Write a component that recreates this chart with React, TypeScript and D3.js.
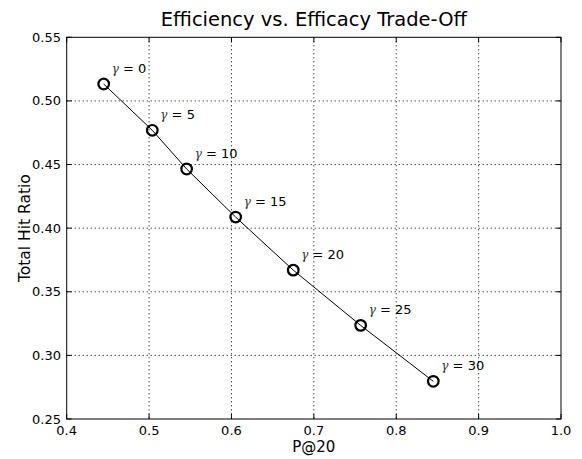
import React from "react";
import * as d3 from "d3";

const gammas = [0, 5, 10, 15, 20, 25, 30];
const precision = [0.4449, 0.5039, 0.5456, 0.6051, 0.675, 0.7568, 0.845];
const hitRatio = [0.5133, 0.4769, 0.4465, 0.4087, 0.367, 0.3236, 0.2796];
const xTicks = [0.4, 0.5, 0.6, 0.7, 0.8, 0.9, 1.0];
const yTicks = [0.25, 0.3, 0.35, 0.4, 0.45, 0.5, 0.55];

const W = 582, H = 459;
const L = 66.7, R = 561, T = 37.3, B = 419;

export default function App() {
  const x = d3.scaleLinear().domain([0.4, 1.0]).range([L, R]);
  const y = d3.scaleLinear().domain([0.25, 0.55]).range([B, T]);
  const pts = precision.map((p, i) => [x(p), y(hitRatio[i])] as [number, number]);
  const line = d3.line()(pts) || "";
  const font = "DejaVu Sans, sans-serif";
  return (
    <svg width={W} height={H} style={{ position: "absolute", left: 0, top: 0, background: "#fff" }} fontFamily={font}>
      <rect x={0} y={0} width={W} height={H} fill="#fff" />
      {xTicks.slice(1, -1).map((t) => (
        <line key={"gx" + t} x1={x(t)} x2={x(t)} y1={T} y2={B} stroke="#000" strokeWidth={1} strokeDasharray="1,3" />
      ))}
      {yTicks.slice(1, -1).map((t) => (
        <line key={"gy" + t} x1={L} x2={R} y1={y(t)} y2={y(t)} stroke="#000" strokeWidth={1} strokeDasharray="1,3" />
      ))}
      {xTicks.map((t) => (
        <g key={"xt" + t}>
          <line x1={x(t)} x2={x(t)} y1={B} y2={B - 5} stroke="#000" />
          <line x1={x(t)} x2={x(t)} y1={T} y2={T + 5} stroke="#000" />
          <text x={x(t)} y={435} fontSize={13} textAnchor="middle">{t.toFixed(1)}</text>
        </g>
      ))}
      {yTicks.map((t) => (
        <g key={"yt" + t}>
          <line x1={L} x2={L + 5} y1={y(t)} y2={y(t)} stroke="#000" />
          <line x1={R} x2={R - 5} y1={y(t)} y2={y(t)} stroke="#000" />
          <text x={61} y={y(t) + 4.5} fontSize={13} textAnchor="end">{t.toFixed(2)}</text>
        </g>
      ))}
      <rect x={L} y={T} width={R - L} height={B - T} fill="none" stroke="#000" strokeWidth={1} />
      <path d={line} fill="none" stroke="#000" strokeWidth={1} />
      {pts.map(([px, py], i) => (
        <g key={"p" + i}>
          <circle cx={px} cy={py} r={5.3} fill="none" stroke="#000" strokeWidth={2.2} />
          <text x={px + 8} y={py - 11} fontSize={13}>
            <tspan fontStyle="italic" fontFamily="DejaVu Serif, serif" fontSize={12} fill="#333">γ</tspan>
            <tspan> = {gammas[i]}</tspan>
          </text>
        </g>
      ))}
      <text x={(L + R) / 2} y={26} fontSize={19.5} textAnchor="middle">Efficiency vs. Efficacy Trade-Off</text>
      <text x={(L + R) / 2} y={452} fontSize={15} textAnchor="middle">P@20</text>
      <text transform={`translate(30,${(T + B) / 2}) rotate(-90)`} fontSize={15.5} textAnchor="middle">Total Hit Ratio</text>
    </svg>
  );
}
